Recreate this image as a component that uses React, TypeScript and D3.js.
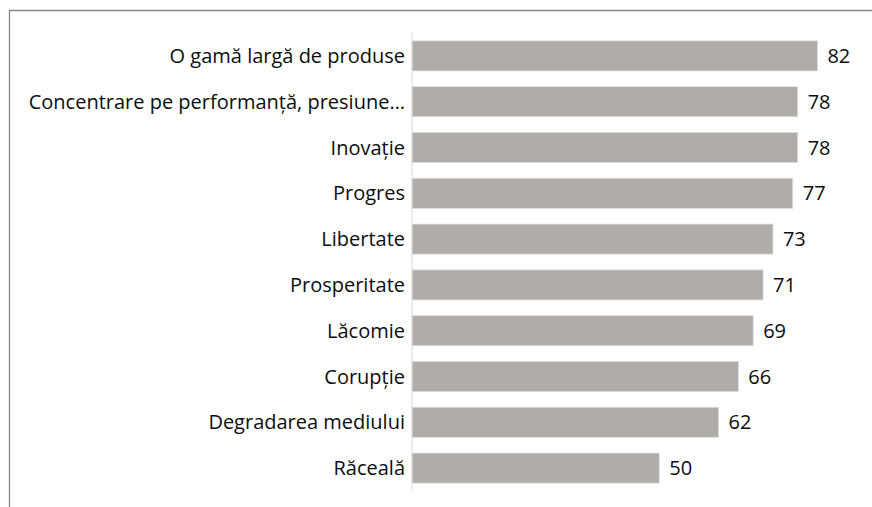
import React from "react";
import * as d3 from "d3";

const categories = [
  "O gamă largă de produse",
  "Concentrare pe performanță, presiune…",
  "Inovație",
  "Progres",
  "Libertate",
  "Prosperitate",
  "Lăcomie",
  "Corupție",
  "Degradarea mediului",
  "Răceală",
];
const values = [82, 78, 78, 77, 73, 71, 69, 66, 62, 50];

const W = 872;
const H = 507;
const FONT = "'Open Sans', sans-serif";

export default function App() {
  const x = d3.scaleLinear().domain([0, 90]).range([412, 857]);
  const y = d3
    .scaleBand<string>()
    .domain(categories)
    .range([33, 491])
    .paddingInner(0.345)
    .paddingOuter(0.1725);

  return (
    <svg
      width={W}
      height={H}
      style={{ position: "absolute", left: 0, top: 0, background: "#fff" }}
    >
      <rect x={0} y={0} width={W} height={H} fill="#fff" />
      {/* chart border (cropped) */}
      <path
        d={`M9.5,${H + 5} V10.5 H${W + 5}`}
        fill="none"
        stroke="#868686"
        strokeWidth={1.3}
      />
      {categories.map((c, i) => (
        <g key={c}>
          <rect
            x={x(0)}
            y={y(c)!}
            width={x(values[i]) - x(0)}
            height={y.bandwidth()}
            fill="#AFACAB"
            stroke="#dcdad9"
            strokeWidth={0.8}
          />
          <text
            x={x(0) - 7}
            y={y(c)! + y.bandwidth() / 2}
            dy="0.35em"
            textAnchor="end"
            fontFamily={FONT}
            fontSize={20}
            fill="#0d0d0d"
          >
            {c}
          </text>
          <text
            x={x(values[i]) + 10}
            y={y(c)! + y.bandwidth() / 2}
            dy="0.35em"
            textAnchor="start"
            fontFamily={FONT}
            fontSize={20}
            fill="#0d0d0d"
          >
            {values[i]}
          </text>
        </g>
      ))}
      <line
        x1={x(0)}
        x2={x(0)}
        y1={33}
        y2={491}
        stroke="#d9d9d9"
        strokeWidth={1}
      />
    </svg>
  );
}
